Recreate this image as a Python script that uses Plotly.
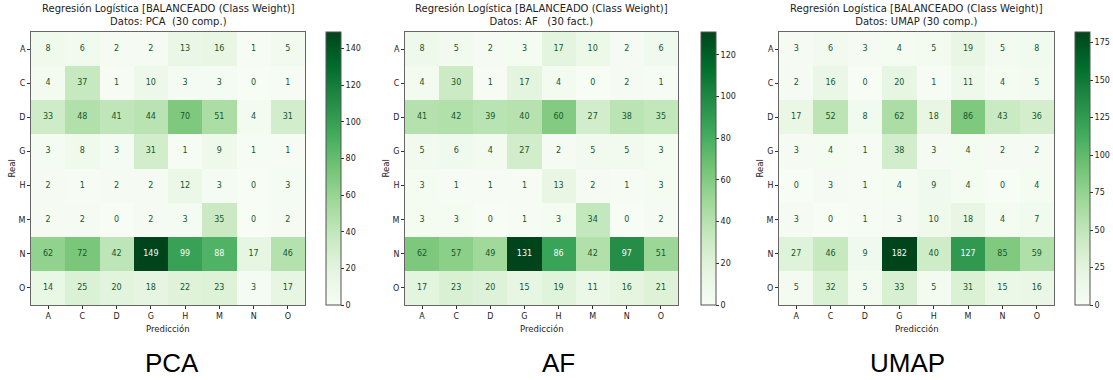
import plotly.graph_objects as go

W, H = 1113, 380

classes = ["A", "C", "D", "G", "H", "M", "N", "O"]

pca_values = [
    [8, 6, 2, 2, 13, 16, 1, 5],
    [4, 37, 1, 10, 3, 3, 0, 1],
    [33, 48, 41, 44, 70, 51, 4, 31],
    [3, 8, 3, 31, 1, 9, 1, 1],
    [2, 1, 2, 2, 12, 3, 0, 3],
    [2, 2, 0, 2, 3, 35, 0, 2],
    [62, 72, 42, 149, 99, 88, 17, 46],
    [14, 25, 20, 18, 22, 23, 3, 17],
]
af_values = [
    [8, 5, 2, 3, 17, 10, 2, 6],
    [4, 30, 1, 17, 4, 0, 2, 1],
    [41, 42, 39, 40, 60, 27, 38, 35],
    [5, 6, 4, 27, 2, 5, 5, 3],
    [3, 1, 1, 1, 13, 2, 1, 3],
    [3, 3, 0, 1, 3, 34, 0, 2],
    [62, 57, 49, 131, 86, 42, 97, 51],
    [17, 23, 20, 15, 19, 11, 16, 21],
]
umap_values = [
    [3, 6, 3, 4, 5, 19, 5, 8],
    [2, 16, 0, 20, 1, 11, 4, 5],
    [17, 52, 8, 62, 18, 86, 43, 36],
    [3, 4, 1, 38, 3, 4, 2, 2],
    [0, 3, 1, 4, 9, 4, 0, 4],
    [3, 0, 1, 3, 10, 18, 4, 7],
    [27, 46, 9, 182, 40, 127, 85, 59],
    [5, 32, 5, 33, 5, 31, 15, 16],
]

titles = [
    "Regresión Logística [BALANCEADO (Class Weight)]<br>Datos: PCA  (30 comp.)",
    "Regresión Logística [BALANCEADO (Class Weight)]<br>Datos: AF   (30 fact.)",
    "Regresión Logística [BALANCEADO (Class Weight)]<br>Datos: UMAP (30 comp.)",
]
bottom_labels = ["PCA", "AF", "UMAP"]
cbar_ticks = [
    [0, 20, 40, 60, 80, 100, 120, 140],
    [0, 20, 40, 60, 80, 100, 120],
    [0, 25, 50, 75, 100, 125, 150, 175],
]

greens = [
    [0.0, "#f7fcf5"], [0.125, "#e5f5e0"], [0.25, "#c7e9c0"], [0.375, "#a1d99b"],
    [0.5, "#74c476"], [0.625, "#41ab5d"], [0.75, "#238b45"], [0.875, "#006d2c"],
    [1.0, "#00441b"],
]

# pixel layout (left, right) of each heatmap and colorbar left
panels = [
    dict(x0=31, x1=305, cb=326, lab=172),
    dict(x0=405, x1=678, cb=701, lab=558),
    dict(x0=779, x1=1054, cb=1075, lab=907),
]
top_px, bot_px = 32, 305

FONT = "DejaVu Sans"
fig = go.Figure()
annotations = []
datasets = [pca_values, af_values, umap_values]

for i, (vals, p) in enumerate(zip(datasets, panels)):
    n = i + 1
    xa = "x" if n == 1 else f"x{n}"
    ya = "y" if n == 1 else f"y{n}"
    flat = [v for row in vals for v in row]
    vmin, vmax = min(flat), max(flat)
    thresh = (vmin + vmax) / 2
    fig.add_trace(go.Heatmap(
        z=vals, x=classes, y=classes, xaxis=xa, yaxis=ya,
        colorscale=greens, zmin=vmin, zmax=vmax, showscale=True,
        hoverinfo="skip",
        colorbar=dict(
            x=p["cb"] / W, xanchor="left", xref="paper",
            y=1 - (top_px + bot_px) / 2 / H, yanchor="middle",
            lenmode="pixels", len=bot_px - top_px,
            thicknessmode="pixels", thickness=15,
            outlinewidth=1, outlinecolor="#555555",
            tickvals=cbar_ticks[i], ticks="outside", ticklen=3, tickwidth=1,
            tickcolor="#333", tickfont=dict(family=FONT, size=8, color="#222"),
            xpad=0, ypad=0,
        ),
    ))
    xs, ys, ts, cs = [], [], [], []
    for r, rc in enumerate(classes):
        for c, cc in enumerate(classes):
            v = vals[r][c]
            xs.append(cc)
            ys.append(rc)
            ts.append(str(v))
            cs.append("#f7fcf5" if v > thresh else "#14572c")
    fig.add_trace(go.Scatter(
        x=xs, y=ys, text=ts, mode="text", xaxis=xa, yaxis=ya,
        textfont=dict(family=FONT, size=8, color=cs), hoverinfo="skip",
        showlegend=False,
    ))
    axis_common = dict(
        showline=True, mirror=True, linecolor="#666666", linewidth=1,
        ticks="outside", ticklen=3, tickwidth=1, tickcolor="#333",
        tickfont=dict(family=FONT, size=8, color="#222"),
        showgrid=False, zeroline=False, type="category",
    )
    fig.update_layout(**{
        ("xaxis" if n == 1 else f"xaxis{n}"): dict(
            axis_common, domain=[p["x0"] / W, p["x1"] / W], anchor=ya,
            categoryorder="array", categoryarray=classes,
            range=[-0.5, 7.5],
        ),
        ("yaxis" if n == 1 else f"yaxis{n}"): dict(
            axis_common, domain=[1 - bot_px / H, 1 - top_px / H], anchor=xa,
            categoryorder="array", categoryarray=classes,
            range=[7.5, -0.5],
        ),
    })
    cx = (p["x0"] + p["x1"]) / 2 / W
    annotations.append(dict(
        text=titles[i], x=cx, y=1 - 29 / H, xref="paper", yref="paper",
        xanchor="center", yanchor="bottom", showarrow=False,
        font=dict(family=FONT, size=10, color="#222"),
    ))
    annotations.append(dict(
        text="Predicción", x=cx, y=1 - 329 / H, xref="paper", yref="paper",
        xanchor="center", yanchor="middle", showarrow=False,
        font=dict(family=FONT, size=8.5, color="#222"),
    ))
    annotations.append(dict(
        text="Real", x=(p["x0"] - 20) / W, y=1 - (top_px + bot_px) / 2 / H,
        xref="paper", yref="paper", xanchor="center", yanchor="middle",
        textangle=-90, showarrow=False,
        font=dict(family=FONT, size=8.5, color="#222"),
    ))
    annotations.append(dict(
        text=bottom_labels[i], x=p["lab"] / W, y=1 - 363 / H,
        xref="paper", yref="paper", xanchor="center", yanchor="middle",
        showarrow=False,
        font=dict(family="Liberation Sans", size=26, color="#000"),
    ))

fig.update_layout(
    width=W, height=H, margin=dict(l=0, r=0, t=0, b=0),
    paper_bgcolor="white", plot_bgcolor="white",
    showlegend=False, annotations=annotations,
)

fig.write_html("out.html", config={"displayModeBar": False})
